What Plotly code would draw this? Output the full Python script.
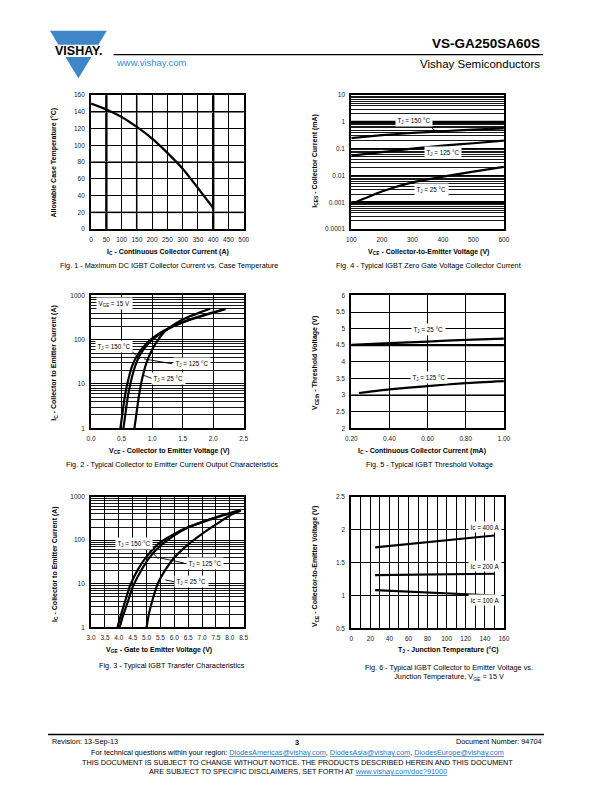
import plotly.graph_objects as go

W, H = 596, 792
FONT = "Liberation Sans, Arial, Helvetica, sans-serif"


def px(x):
    return x / W


def py(y):
    return 1 - y / H


# ---------------- data ----------------
# Fig. 1
fig1_ic = [0, 50, 100, 150, 200, 250, 300, 350, 400]
fig1_tc = [150, 143, 134, 122, 108, 91, 72, 49, 25]
fig1_xticks = [0, 50, 100, 150, 200, 250, 300, 350, 400, 450, 500]
fig1_yticks = [0, 20, 40, 60, 80, 100, 120, 140, 160]

# Fig. 4
fig4_vce = [100, 200, 300, 400, 500, 600]
fig4_ices_150 = [0.25, 0.32, 0.39, 0.45, 0.52, 0.58]
fig4_ices_125 = [0.055, 0.075, 0.1, 0.13, 0.16, 0.2]
fig4_ices_25 = [0.00085, 0.0025, 0.0055, 0.009, 0.014, 0.021]
fig4_yticks = [0.0001, 0.001, 0.01, 0.1, 1, 10]
fig4_yticktext = ["0.0001", "0.001", "0.01", "0.1", "1", "10"]

# Fig. 2
fig2_vce_25 = [0.71, 0.74, 0.78, 0.83, 0.9, 1.0, 1.1, 1.2, 1.4, 1.6, 1.8, 1.95]
fig2_ic_25 = [1, 2, 5, 12, 28, 60, 100, 150, 240, 330, 420, 500]
fig2_vce_125 = [0.53, 0.56, 0.6, 0.65, 0.72, 0.8, 0.93, 1.08, 1.3, 1.6, 1.9, 2.2]
fig2_ic_125 = [1, 2, 5, 11, 25, 45, 80, 120, 185, 275, 370, 490]
fig2_vce_150 = [0.48, 0.51, 0.55, 0.6, 0.67, 0.76, 0.9, 1.05, 1.3, 1.6, 1.9, 2.2]
fig2_ic_150 = [1, 2, 5, 11, 25, 45, 80, 120, 190, 280, 380, 500]
fig2_xticks = [0.0, 0.5, 1.0, 1.5, 2.0, 2.5]
log_yticks = [1, 10, 100, 1000]

# Fig. 5
fig5_ic_25 = [0.2, 0.4, 0.6, 0.8, 1.0]
fig5_vth_25 = [4.51, 4.56, 4.61, 4.66, 4.7]
fig5_ic_125 = [0.24, 0.4, 0.6, 0.8, 1.0]
fig5_vth_125 = [3.06, 3.17, 3.27, 3.36, 3.42]
fig5_xticks = [0.2, 0.4, 0.6, 0.8, 1.0]
fig5_yticks = [2, 2.5, 3, 3.5, 4, 4.5, 5, 5.5, 6]

# Fig. 3
fig3_vge_150 = [3.95, 4.05, 4.2, 4.4, 4.7, 5.0, 5.5, 6.0, 6.5, 7.0, 7.5, 8.0, 8.4]
fig3_ic_150 = [1, 1.7, 3.5, 9, 22, 42, 90, 140, 200, 260, 330, 410, 480]
fig3_vge_125 = [4.03, 4.13, 4.3, 4.5, 4.8, 5.1, 5.5, 6.0, 6.5, 7.0, 7.5, 8.0, 8.4]
fig3_ic_125 = [1, 1.7, 3.5, 8.5, 20, 40, 75, 130, 195, 260, 335, 420, 500]
fig3_vge_25 = [5.0, 5.08, 5.2, 5.4, 5.7, 6.0, 6.5, 7.0, 7.5, 8.0, 8.4]
fig3_ic_25 = [1, 2, 4, 10, 22, 40, 80, 140, 230, 370, 480]
fig3_xticks = [3.0, 3.5, 4.0, 4.5, 5.0, 5.5, 6.0, 6.5, 7.0, 7.5, 8.0, 8.5]

# Fig. 6
fig6_tj = [25, 150]
fig6_vce_400 = [1.73, 1.91]
fig6_vce_200 = [1.31, 1.33]
fig6_vce_100 = [1.08, 1.0]
fig6_xticks = [0, 20, 40, 60, 80, 100, 120, 140, 160]
fig6_yticks = [0.5, 1, 1.5, 2, 2.5]


# minor log grid positions (2..9 in each decade)
def log_minor(e0, e1):
    return [m * 10 ** e for e in range(e0, e1) for m in range(2, 10)]


# ---------------- figure ----------------
fig = go.Figure()
LINE = dict(color="black", width=2.2, shape="spline", smoothing=0.6)


def add(x, y, ax):
    fig.add_trace(go.Scatter(x=x, y=y, mode="lines", line=LINE,
                             xaxis="x" + ax, yaxis="y" + ax,
                             showlegend=False, hoverinfo="skip"))


add(fig1_ic, fig1_tc, "")
add(fig2_vce_25, fig2_ic_25, "2")
add(fig2_vce_125, fig2_ic_125, "2")
add(fig2_vce_150, fig2_ic_150, "2")
add(fig3_vge_25, fig3_ic_25, "3")
add(fig3_vge_125, fig3_ic_125, "3")
add(fig3_vge_150, fig3_ic_150, "3")
add(fig4_vce, fig4_ices_150, "4")
add(fig4_vce, fig4_ices_125, "4")
add(fig4_vce, fig4_ices_25, "4")
add(fig5_ic_25, fig5_vth_25, "5")
add(fig5_ic_125, fig5_vth_125, "5")
add(fig6_tj, fig6_vce_400, "6")
add(fig6_tj, fig6_vce_200, "6")
add(fig6_tj, fig6_vce_100, "6")

TICKFONT = dict(family=FONT, size=6.5, color="#222")


def ax(dom, **kw):
    base = dict(domain=dom, showline=True, linecolor="black", linewidth=2,
                mirror=True, ticks="", tickfont=TICKFONT, showgrid=True,
                gridcolor="black", gridwidth=1, zeroline=False,
                fixedrange=True, layer="below traces", ticklabelstandoff=3)
    base.update(kw)
    return base


# plot area rectangles (pixel)
R1 = (87, 243, 92, 227)
R4 = (353, 509, 92, 227)
R2 = (87, 243, 294, 428)
R5 = (353, 509, 294, 428)
R3 = (87, 243, 497, 629)
R6 = (353, 509, 497, 630)


def xd(r):
    return [px(r[0]), px(r[1])]


def yd(r):
    return [py(r[3]), py(r[2])]


fig.update_layout(
    width=W, height=H, margin=dict(l=0, r=0, t=0, b=0),
    paper_bgcolor="white", plot_bgcolor="white", showlegend=False,
    font=dict(family=FONT, color="black"),
    xaxis=ax(xd(R1), range=[0, 500], tickvals=fig1_xticks, anchor="y"),
    yaxis=ax(yd(R1), range=[0, 160], tickvals=fig1_yticks, anchor="x"),
    xaxis4=ax(xd(R4), range=[100, 600], dtick=100, showgrid=False, anchor="y4"),
    yaxis4=ax(yd(R4), type="log", range=[-4, 1], tickvals=fig4_yticks,
              ticktext=fig4_yticktext, gridwidth=1.4, anchor="x4",
              minor=dict(tickmode="array", tickvals=log_minor(-4, 1),
                         showgrid=True, gridcolor="black", gridwidth=0.9)),
    xaxis2=ax(xd(R2), range=[0, 2.5], tickvals=fig2_xticks, tickformat=".1f", anchor="y2"),
    yaxis2=ax(yd(R2), type="log", range=[0, 3], tickvals=log_yticks,
              ticktext=[str(v) for v in log_yticks], anchor="x2",
              minor=dict(tickmode="array", tickvals=log_minor(0, 3),
                         showgrid=True, gridcolor="black", gridwidth=0.9)),
    xaxis5=ax(xd(R5), range=[0.2, 1.0], tickvals=fig5_xticks, tickformat=".2f", anchor="y5"),
    yaxis5=ax(yd(R5), range=[2, 6], tickvals=fig5_yticks, anchor="x5"),
    xaxis3=ax(xd(R3), range=[3.0, 8.5], tickvals=fig3_xticks, tickformat=".1f", anchor="y3"),
    yaxis3=ax(yd(R3), type="log", range=[0, 3], tickvals=log_yticks,
              ticktext=[str(v) for v in log_yticks], anchor="x3",
              minor=dict(tickmode="array", tickvals=log_minor(0, 3),
                         showgrid=True, gridcolor="black", gridwidth=0.9)),
    xaxis6=ax(xd(R6), range=[0, 160], tickvals=fig6_xticks, anchor="y6",
              minor=dict(dtick=10, showgrid=True, gridcolor="black", gridwidth=1)),
    yaxis6=ax(yd(R6), range=[0.5, 2.5], tickvals=fig6_yticks, anchor="x6"),
)

shapes = []


def dline(xref, yref, x0, y0, x1, y1, w=2.4, c="black"):
    shapes.append(dict(type="line", xref=xref, yref=yref, x0=x0, y0=y0,
                       x1=x1, y1=y1, line=dict(color=c, width=w), layer="below"))


# emphasised grid lines (Fig. 1)
dline("x", "y domain", 50, 0, 50, 1)
dline("x", "y domain", 400, 0, 400, 1)
dline("x", "y domain", 150, 0, 150, 1, 2, "#777")
for v in (140, 80, 20):
    dline("x domain", "y", 0, v, 1, v, 2, "#777")
# Fig. 4 decade lines
dline("x4 domain", "y4", 0, 1, 1, 1, 2.4)
dline("x4 domain", "y4", 0, 0.001, 1, 0.001, 2.4)
# Fig. 5
dline("x5 domain", "y5", 0, 4.5, 1, 4.5, 2.2)
dline("x5 domain", "y5", 0, 3, 1, 3, 2, "#777")


def pline(x0, y0, x1, y1, w=0.9):
    shapes.append(dict(type="line", xref="paper", yref="paper",
                       x0=px(x0), y0=py(y0), x1=px(x1), y1=py(y1),
                       line=dict(color="black", width=w)))


# leader lines
pline(432, 122, 440, 129)
pline(128, 350, 137, 358)
pline(141, 358, 170, 363)
pline(139, 374, 150, 378)
pline(146, 550, 156, 560)
pline(158, 559, 182, 564)
pline(163, 581, 172, 583)

# header / footer rules
pline(110, 51, 549, 51, 1.3)
pline(43, 737, 550, 737, 1.3)

# logo
LOGO_BLUE = "#3f86c8"


def path(pts):
    return "M " + " L ".join(f"{px(a):.5f},{py(b):.5f}" for a, b in pts) + " Z"


shapes.append(dict(type="path", xref="paper", yref="paper",
                   path=path([(45, 27), (103, 27), (94.5, 41), (53.5, 41)]),
                   fillcolor=LOGO_BLUE, line=dict(width=0)))
shapes.append(dict(type="path", xref="paper", yref="paper",
                   path=path([(60.7, 53.5), (87.3, 53.5), (74, 75)]),
                   fillcolor=LOGO_BLUE, line=dict(width=0)))

fig.update_layout(shapes=shapes)

ann = []


def text(x, y, s, size=7, xanchor="center", yanchor="middle", bold=False,
         angle=0, bg=None, color="black"):
    if bold:
        s = "<b>" + s + "</b>"
    a = dict(xref="paper", yref="paper", x=px(x), y=py(y), text=s,
             showarrow=False, xanchor=xanchor, yanchor=yanchor,
             textangle=angle, font=dict(family=FONT, size=size, color=color))
    if bg:
        a.update(bgcolor=bg, borderpad=1.5)
    ann.append(a)


# header
text(74, 47, "VISHAY.", 12.5, bold=True)
text(110, 59, "www.vishay.com", 9.5, xanchor="left", color="#2b8fd6")
text(548, 40, "VS-GA250SA60S", 13.5, xanchor="right", bold=True)
text(548, 61, "Vishay Semiconductors", 11.5, xanchor="right")

# axis titles & captions
TS = 7
CS = 7.3
text(166, 250, "I<sub>C</sub> - Continuous Collector Current (A)", TS, bold=True)
text(167, 264, "Fig. 1 - Maximum DC IGBT Collector Current vs. Case Temperature", CS)
text(49, 160, "Allowable Case Temperature (°C)", TS, bold=True, angle=-90)

text(432, 250, "V<sub>CE</sub> - Collector-to-Emitter Voltage (V)", TS, bold=True)
text(432, 264, "Fig. 4 - Typical IGBT Zero Gate Voltage Collector Current", CS)
text(315, 158, "I<sub>CES</sub> - Collector Current (mA)", TS, bold=True, angle=-90)

text(167, 451, "V<sub>CE</sub> - Collector to Emitter Voltage (V)", TS, bold=True)
text(170, 465, "Fig. 2 - Typical Collector to Emitter Current Output Characteristics", CS)
text(49, 362, "I<sub>C</sub> - Collector to Emitter Current (A)", TS, bold=True, angle=-90)

text(425, 451, "I<sub>C</sub> - Continuous Collector Current (mA)", TS, bold=True)
text(433, 465, "Fig. 5 - Typical IGBT Threshold Voltage", CS)
text(316, 362, "V<sub>CEth</sub> - Threshold Voltage (V)", TS, bold=True, angle=-90)

text(156, 652, "V<sub>GE</sub> - Gate to Emitter Voltage (V)", TS, bold=True)
text(170, 667, "Fig. 3 - Typical IGBT Transfer Characteristics", CS)
text(50, 565, "I<sub>C</sub> - Collector to Emitter Current (A)", TS, bold=True, angle=-90)

text(452, 652, "T<sub>J</sub> - Junction Temperature (°C)", TS, bold=True)
text(453, 674, "Fig. 6 - Typical IGBT Collector to Emitter Voltage vs.<br>Junction Temperature, V<sub>GE</sub> = 15 V", CS)
text(316, 568, "V<sub>CE</sub> - Collector-to-Emitter Voltage (V)", TS, bold=True, angle=-90)

# curve labels
LS = 6.3
text(417, 118, "T<sub>J</sub> = 150 °C", LS, bg="white")
text(447, 150, "T<sub>J</sub> = 125 °C", LS, bg="white")
text(435, 187, "T<sub>J</sub> = 25 °C", LS, bg="white")

text(111, 302, "V<sub>GE</sub> = 15 V", LS, bg="white")
text(110, 346, "T<sub>J</sub> = 150 °C", LS, bg="white")
text(190, 363, "T<sub>J</sub> = 125 °C", LS, bg="white")
text(166, 378, "T<sub>J</sub> = 25 °C", LS, bg="white")

text(131, 544, "T<sub>J</sub> = 150 °C", LS, bg="white")
text(203, 564, "T<sub>J</sub> = 125 °C", LS, bg="white")
text(190, 583, "T<sub>J</sub> = 25 °C", LS, bg="white")

text(432, 328, "T<sub>J</sub> = 25 °C", LS, bg="white")
text(432, 377, "T<sub>J</sub> = 125 °C", LS, bg="white")

text(490, 528, "Ic = 400 A", LS, bg="white")
text(490, 567, "Ic = 200 A", LS, bg="white")
text(490, 601, "Ic = 100 A", LS, bg="white")

# footer
FS = 7.3
LINK = "color:#1f78c8;text-decoration:underline"
text(45, 744, "Revision: 13-Sep-13", FS, xanchor="left")
text(297, 745, "<b>3</b>", FS)
text(550, 744, "Document Number: 94704", FS, xanchor="right")
text(298, 755,
     "For technical questions within your region: "
     f"<span style='{LINK}'>DiodesAmericas@vishay.com</span>, "
     f"<span style='{LINK}'>DiodesAsia@vishay.com</span>, "
     f"<span style='{LINK}'>DiodesEurope@vishay.com</span>", FS)
text(298, 765, "THIS DOCUMENT IS SUBJECT TO CHANGE WITHOUT NOTICE. THE PRODUCTS DESCRIBED HEREIN AND THIS DOCUMENT", FS)
text(298, 774, "ARE SUBJECT TO SPECIFIC DISCLAIMERS, SET FORTH AT "
     f"<span style='{LINK}'>www.vishay.com/doc?91000</span>", FS)

fig.update_layout(annotations=ann)

fig.write_html("out.html",
               config={"displayModeBar": False, "staticPlot": True},
               post_script="document.body.style.margin='0';"
                           "document.body.style.overflow='hidden';")
